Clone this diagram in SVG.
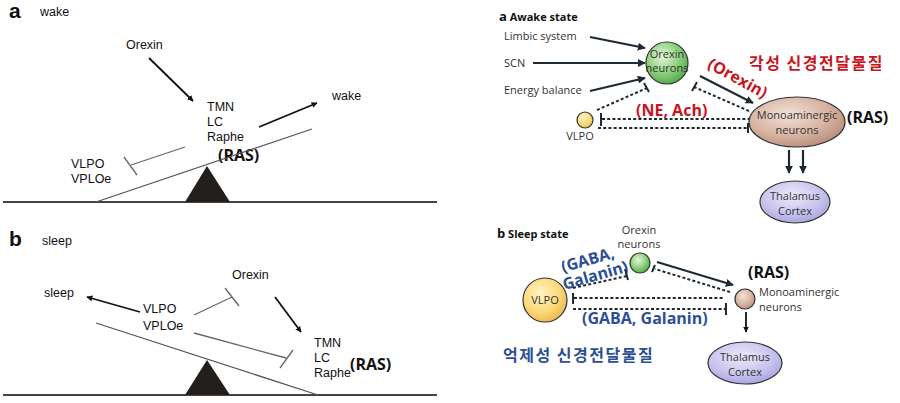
<svg xmlns="http://www.w3.org/2000/svg" width="900" height="403" viewBox="0 0 900 403">
<style>
.lt{font-family:"Liberation Sans",Arial,sans-serif;font-size:12.5px;fill:#111}
.lbl{font-family:"Liberation Sans",Arial,sans-serif;font-weight:bold;font-size:21px;fill:#111}
.sm{font-family:"Liberation Sans",Arial,sans-serif;font-size:12.5px;fill:#111}
.ras{font-family:"Open Sans","Noto Sans",sans-serif;font-weight:bold;font-size:16px;fill:#111}
.rt{font-family:"Open Sans","Noto Sans",sans-serif;font-size:11px;fill:#333}
.hd{font-family:"Open Sans","Noto Sans",sans-serif;font-weight:bold;font-size:11px;fill:#111}
.red{font-family:"Open Sans","Noto Sans","Noto Sans CJK KR",sans-serif;font-weight:bold;font-size:16px;fill:#c8141e}
.blue{font-family:"Open Sans","Noto Sans","Noto Sans CJK KR",sans-serif;font-weight:bold;font-size:16px;fill:#2c4f96}
.kr{font-family:"Noto Sans CJK KR",sans-serif;font-weight:bold;letter-spacing:1.5px}
.beam{stroke:#555;stroke-width:1.3;fill:none}
.ground{stroke:#444;stroke-width:2;fill:none}
.inh{stroke:#666;stroke-width:1.3;fill:none}
.arr{stroke:#111;stroke-width:1.8;fill:none;marker-end:url(#ah)}
.arr2{stroke:#1e2a33;stroke-width:2.2;fill:none;marker-end:url(#ah2)}
.dash{stroke:#1e2a33;stroke-width:2;stroke-dasharray:3 2.2;fill:none}
.bar{stroke:#1e2a33;stroke-width:2;fill:none}
.node{stroke:#333;stroke-width:1.2}
</style>
<defs>
<marker id="ah" viewBox="0 0 10 10" refX="9" refY="5" markerWidth="6" markerHeight="6" orient="auto" markerUnits="userSpaceOnUse"><path d="M0,0 L10,5 L0,10 z" fill="#111"/></marker>
<marker id="ah2" viewBox="0 0 10 10" refX="9" refY="5" markerWidth="8" markerHeight="8" orient="auto" markerUnits="userSpaceOnUse"><path d="M0,0 L10,5 L0,10 z" fill="#1e2a33"/></marker>
<radialGradient id="gOrex" cx="40%" cy="35%" r="70%"><stop offset="0" stop-color="#e4f7dc"/><stop offset="0.55" stop-color="#8fd07f"/><stop offset="1" stop-color="#4fa84a"/></radialGradient>
<radialGradient id="gMono" cx="40%" cy="35%" r="70%"><stop offset="0" stop-color="#f2e2d8"/><stop offset="0.6" stop-color="#d7b3a2"/><stop offset="1" stop-color="#b68b78"/></radialGradient>
<radialGradient id="gThal" cx="45%" cy="35%" r="70%"><stop offset="0" stop-color="#ecebfb"/><stop offset="0.6" stop-color="#c8c4ee"/><stop offset="1" stop-color="#a59fdb"/></radialGradient>
<radialGradient id="gVlpo" cx="40%" cy="35%" r="70%"><stop offset="0" stop-color="#fff3c4"/><stop offset="0.6" stop-color="#fbd97a"/><stop offset="1" stop-color="#e9b64a"/></radialGradient>
</defs>
<rect width="900" height="403" fill="#fff"/>

<!-- Left panel a: wake -->
<g id="left-a">
  <text class="lbl" x="9" y="18">a</text>
  <text class="sm" x="40" y="16">wake</text>
  <g id="la-orexin"><text class="lt" x="126" y="49">Orexin</text></g>
  <g id="la-tmn"><text class="lt" x="207" y="111">TMN</text><text class="lt" x="207" y="126">LC</text><text class="lt" x="207" y="141">Raphe</text></g>
  <g id="la-ras"><text class="ras" x="218" y="161">(RAS)</text></g>
  <g id="la-wake"><text class="lt" x="332" y="100">wake</text></g>
  <g id="la-vlpo"><text class="lt" x="71" y="168">VLPO</text><text class="lt" x="71" y="183">VPLOe</text></g>
  <line class="ground" x1="3" y1="202" x2="437" y2="202"/>
  <line class="beam" x1="96" y1="202" x2="312" y2="129"/>
  <polygon points="207,166 185,202 230,202" fill="#231f1c"/>
</g>
<g id="left-a-connectors">
  <line class="arr" x1="149" y1="58" x2="193" y2="101"/>
  <line class="arr" x1="259" y1="127" x2="317" y2="103"/>
  <line class="inh" x1="185" y1="147" x2="131" y2="165"/>
  <line class="inh" x1="124" y1="157" x2="137" y2="175"/>
</g>

<!-- Left panel b: sleep -->
<g id="left-b">
  <text class="lbl" x="9" y="246">b</text>
  <text class="sm" x="42" y="245">sleep</text>
  <g id="lb-orexin"><text class="lt" x="232" y="279">Orexin</text></g>
  <g id="lb-sleep"><text class="lt" x="44" y="297">sleep</text></g>
  <g id="lb-vlpo"><text class="lt" x="143" y="313">VLPO</text><text class="lt" x="143" y="330">VPLOe</text></g>
  <g id="lb-tmn"><text class="lt" x="314" y="347">TMN</text><text class="lt" x="314" y="362">LC</text><text class="lt" x="314" y="377">Raphe</text></g>
  <g id="lb-ras"><text class="ras" x="350" y="370">(RAS)</text></g>
  <line class="ground" x1="3" y1="395" x2="437" y2="395"/>
  <line class="beam" x1="96" y1="323" x2="318" y2="395"/>
  <polygon points="207,360 185,395 230,395" fill="#231f1c"/>
</g>
<g id="left-b-connectors">
  <line class="arr" x1="140" y1="312" x2="87" y2="297"/>
  <line class="arr" x1="275" y1="297" x2="301" y2="332"/>
  <line class="inh" x1="194" y1="315" x2="232" y2="297"/>
  <line class="inh" x1="225" y1="288" x2="239" y2="306"/>
  <line class="inh" x1="194" y1="333" x2="286" y2="358"/>
  <line class="inh" x1="280" y1="368" x2="293" y2="350"/>
</g>

<!-- Right panel a: Awake state -->
<g id="right-a">
  <text class="hd" x="499" y="21"><tspan font-size="13">a</tspan> Awake state</text>
  <g id="ra-limbic"><text class="rt" x="504" y="40">Limbic system</text></g>
  <g id="ra-scn"><text class="rt" x="504" y="67">SCN</text></g>
  <g id="ra-energy"><text class="rt" x="504" y="94">Energy balance</text></g>
  <g id="ra-orexin"><circle class="node" cx="667" cy="63" r="21" fill="url(#gOrex)"/><text class="rt" x="667" y="58" text-anchor="middle" font-size="9">Orexin</text><text class="rt" x="667" y="72" text-anchor="middle" font-size="9">neurons</text></g>
  <g id="ra-mono"><ellipse class="node" cx="797" cy="122" rx="48" ry="25" fill="url(#gMono)"/><text class="rt" x="797" y="119" text-anchor="middle" font-size="10.5">Monoaminergic</text><text class="rt" x="797" y="134" text-anchor="middle" font-size="10.5">neurons</text></g>
  <g id="ra-ras"><text class="ras" x="847" y="123">(RAS)</text></g>
  <g id="ra-vlpo"><circle class="node" cx="585" cy="120" r="8" fill="url(#gVlpo)"/><text class="rt" x="580" y="140" text-anchor="middle" font-size="10">VLPO</text></g>
  <g id="ra-thal"><ellipse class="node" cx="795" cy="202" rx="35" ry="21" fill="url(#gThal)"/><text class="rt" x="795" y="200" text-anchor="middle">Thalamus</text><text class="rt" x="795" y="215" text-anchor="middle">Cortex</text></g>
  <text class="red kr" x="749" y="69" font-size="17.5">각성 신경전달물질</text>
  <text class="red" x="0" y="0" transform="translate(735,83) rotate(29)" text-anchor="middle" font-size="15">(Orexin)</text>
  <text class="red" x="636" y="116">(NE, Ach)</text>
</g>
<g id="right-a-connectors">
  <line class="arr2" x1="590" y1="37" x2="645" y2="48"/>
  <line class="arr2" x1="533" y1="63" x2="645" y2="63"/>
  <line class="arr2" x1="590" y1="91" x2="645" y2="78"/>
  <line class="arr2" x1="700" y1="76" x2="753" y2="103"/>
  <line class="dash" x1="597" y1="110" x2="647" y2="88"/>
  <line class="bar" x1="644" y1="83" x2="649" y2="92"/>
  <line class="dash" x1="749" y1="111" x2="694" y2="87"/>
  <line class="bar" x1="697" y1="82" x2="692" y2="91"/>
  <line class="dash" x1="602" y1="119" x2="749" y2="119"/>
  <line class="bar" x1="601" y1="113" x2="601" y2="126"/>
  <line class="dash" x1="598" y1="128" x2="747" y2="128"/>
  <line class="bar" x1="748" y1="123" x2="748" y2="133"/>
  <line class="arr2" x1="789" y1="150" x2="789" y2="173"/>
  <line class="arr2" x1="803" y1="150" x2="803" y2="173"/>
</g>

<!-- Right panel b: Sleep state -->
<g id="right-b">
  <text class="hd" x="497" y="238"><tspan font-size="13">b</tspan> Sleep state</text>
  <g id="rb-orexin"><text class="rt" x="639" y="234" text-anchor="middle" font-size="10">Orexin</text><text class="rt" x="639" y="248" text-anchor="middle" font-size="10">neurons</text><circle class="node" cx="640" cy="263" r="10" fill="url(#gOrex)"/></g>
  <g id="rb-vlpo"><circle class="node" cx="545" cy="300" r="22" fill="url(#gVlpo)"/><text class="rt" x="545" y="304" text-anchor="middle">VLPO</text></g>
  <g id="rb-mono"><circle class="node" cx="745" cy="299" r="10" fill="url(#gMono)"/><text class="rt" x="759" y="296">Monoaminergic</text><text class="rt" x="759" y="311">neurons</text></g>
  <g id="rb-ras"><text class="ras" x="748" y="278">(RAS)</text></g>
  <g id="rb-thal"><ellipse class="node" cx="745" cy="363" rx="37" ry="21" fill="url(#gThal)"/><text class="rt" x="745" y="361" text-anchor="middle">Thalamus</text><text class="rt" x="745" y="376" text-anchor="middle">Cortex</text></g>
  <g transform="translate(590,268) rotate(-16)"><text class="blue" x="0" y="-3" text-anchor="middle" font-size="15">(GABA,</text><text class="blue" x="3" y="14" text-anchor="middle" font-size="15">Galanin)</text></g>
  <text class="blue" x="582" y="324">(GABA, Galanin)</text>
  <text class="blue kr" x="503" y="361" font-size="18.5">억제성 신경전달물질</text>
</g>
<g id="right-b-connectors">
  <line class="dash" x1="573" y1="288" x2="627" y2="276"/>
  <line class="bar" x1="625" y1="269" x2="628" y2="280"/>
  <line class="arr2" x1="657" y1="262" x2="733" y2="285"/>
  <line class="dash" x1="730" y1="292" x2="655" y2="269"/>
  <line class="bar" x1="655" y1="265" x2="652" y2="272"/>
  <line class="dash" x1="574" y1="298" x2="724" y2="298"/>
  <line class="bar" x1="573" y1="293" x2="573" y2="304"/>
  <line class="dash" x1="573" y1="309" x2="725" y2="309"/>
  <line class="bar" x1="726" y1="303" x2="726" y2="315"/>
  <line class="arr" x1="746" y1="312" x2="746" y2="332"/>
</g>
</svg>
